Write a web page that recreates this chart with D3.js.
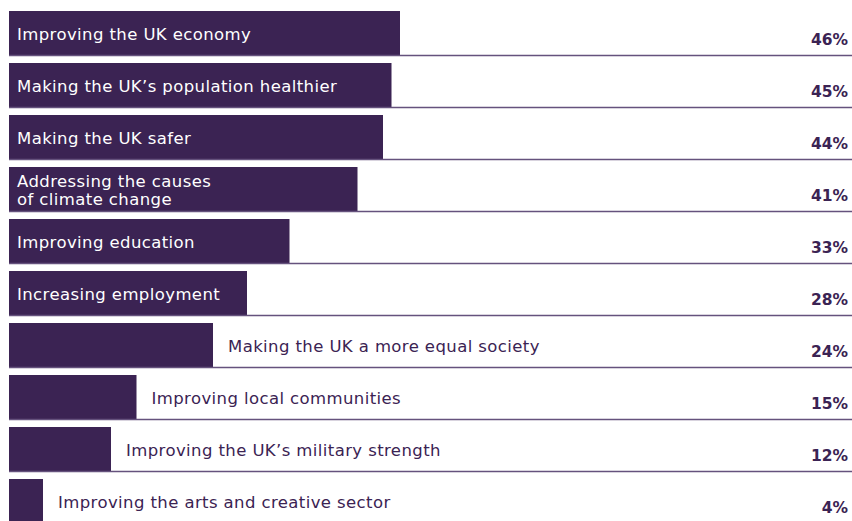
<!DOCTYPE html>
<html>
<head>
<meta charset="utf-8">
<script src="https://cdn.jsdelivr.net/npm/d3@7"></script>
<style>
  html, body { margin: 0; padding: 0; background: #ffffff; }
  svg { display: block; }
</style>
</head>
<body>
<svg id="chart" width="852" height="521"></svg>
<script>
// Share of respondents choosing each priority (%)
const categories = [
  "Improving the UK economy",
  "Making the UK’s population healthier",
  "Making the UK safer",
  "Addressing the causes\nof climate change",
  "Improving education",
  "Increasing employment",
  "Making the UK a more equal society",
  "Improving local communities",
  "Improving the UK’s military strength",
  "Improving the arts and creative sector"
];
const values = [46, 45, 44, 41, 33, 28, 24, 15, 12, 4];
// Labels that sit inside their bar; the rest follow the bar end
const labelInside = [true, true, true, true, true, true, false, false, false, false];

const W = 852, H = 521;
const barColor = "#3b2353";
const lineColor = "#65527d";
const fontFamily = "'DejaVu Sans', 'Open Sans', sans-serif";

const svg = d3.select("#chart");

const x = d3.scaleLinear().domain([0, 100]).range([9, 859]);
// 52px per row: 45px bar plus a 7px gap
const y = d3.scaleBand()
  .domain(d3.range(categories.length))
  .range([11, 11 + 52 * categories.length - 7])
  .paddingInner(7 / 52)
  .paddingOuter(0)
  .align(0);

const rows = svg.selectAll("g.row")
  .data(values.map((v, i) => ({ v, i, label: categories[i], inside: labelInside[i] })))
  .join("g")
  .attr("class", "row")
  .attr("transform", d => `translate(0,${y(d.i)})`);

const bh = y.bandwidth();

// bars
rows.append("rect")
  .attr("x", x(0))
  .attr("y", 0)
  .attr("width", d => x(d.v) - x(0))
  .attr("height", bh)
  .attr("fill", barColor);

// row divider along the bottom of each bar
rows.append("line")
  .attr("x1", x(0))
  .attr("x2", W)
  .attr("y1", bh - 0.5)
  .attr("y2", bh - 0.5)
  .attr("stroke", lineColor)
  .attr("stroke-width", 1.6);

// category labels
rows.each(function (d) {
  const g = d3.select(this);
  const lines = d.label.split("\n");
  const lh = 18;
  const tx = d.inside ? 17 : x(d.v) + 15;
  const text = g.append("text")
    .attr("x", tx)
    .attr("fill", d.inside ? "#ffffff" : "#3b2353")
    .attr("font-family", fontFamily)
    .attr("font-size", 16.5)
    .attr("letter-spacing", 0.4)
    .attr("dominant-baseline", "central");
  const first = bh / 2 - (lines.length - 1) * lh / 2;
  lines.forEach((t, k) => {
    text.append("tspan")
      .attr("x", tx)
      .attr("y", first + k * lh)
      .text(t);
  });
});

// value labels at the right edge
rows.append("text")
  .attr("x", 848)
  .attr("y", 34)
  .attr("text-anchor", "end")
  .attr("fill", "#3b2353")
  .attr("font-family", fontFamily)
  .attr("font-weight", 700)
  .attr("font-size", 15.5)
  .text(d => d.v + "%");
</script>
</body>
</html>
